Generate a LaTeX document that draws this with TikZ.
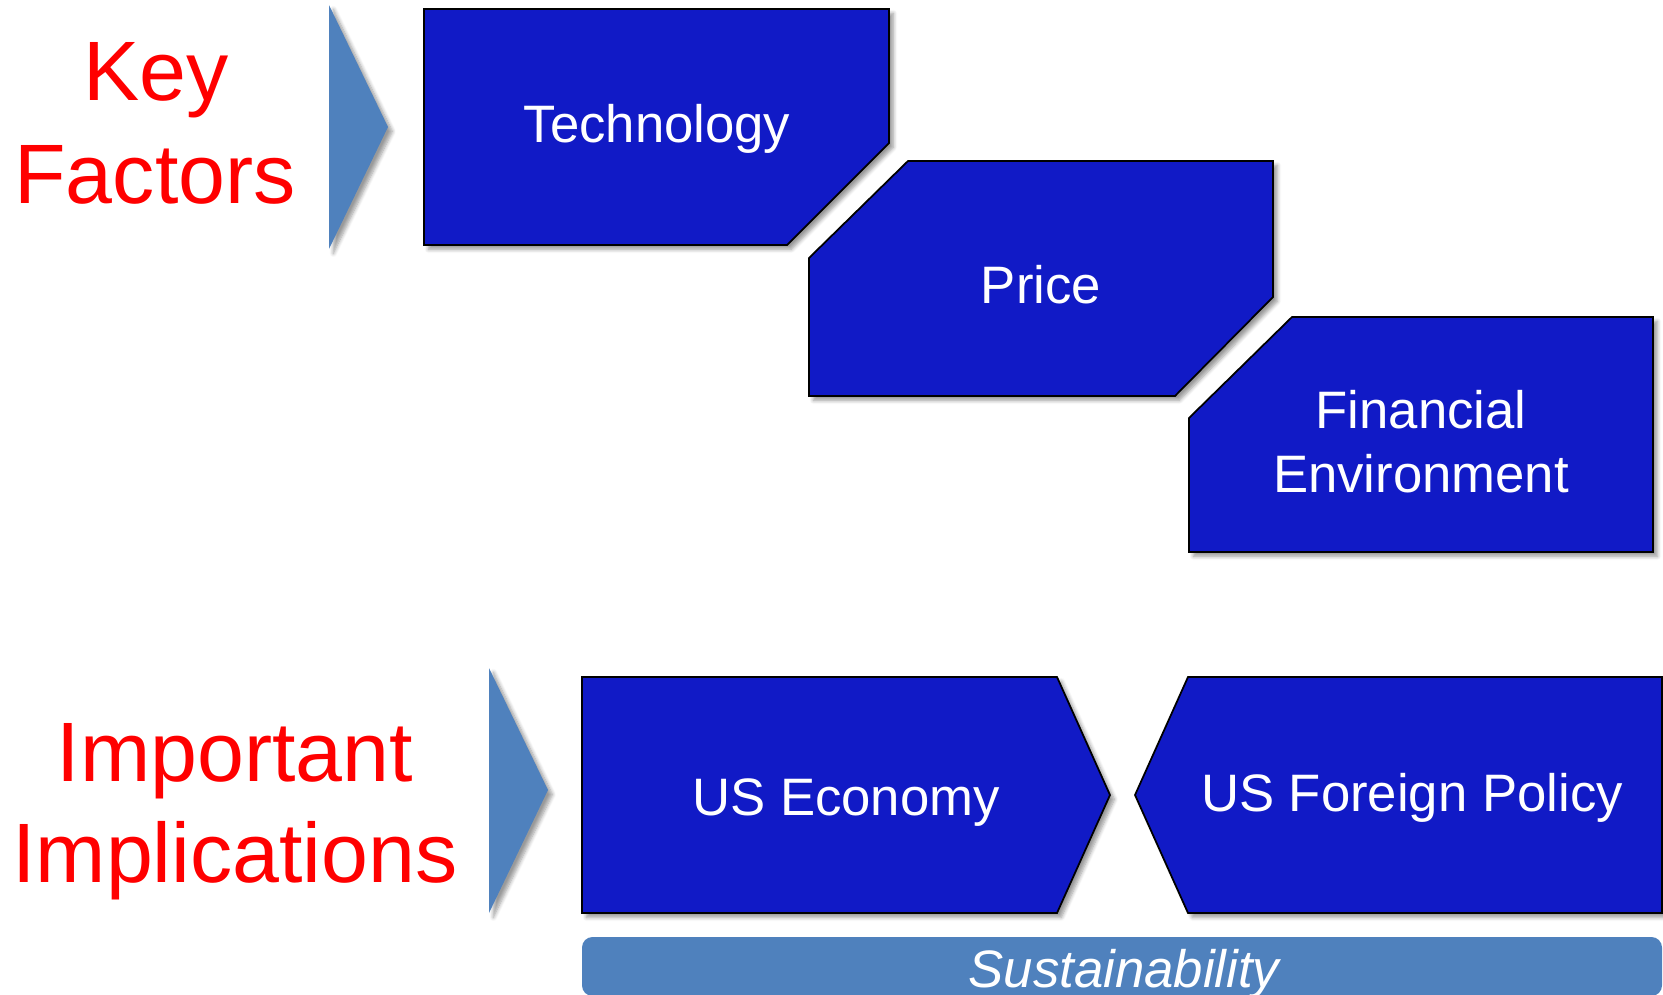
\documentclass[tikz,border=0pt]{standalone}
\usepackage{fontspec}
\setmainfont{Liberation Sans}
\usepackage{xcolor}
\usetikzlibrary{positioning,shadows.blur}
\definecolor{colorBox}{HTML}{111AC6}
\definecolor{colorArrow}{HTML}{4F81BD}
\definecolor{colorHead}{HTML}{FF0000}

\begin{document}
\begin{tikzpicture}[x=0.02cm,y=-0.02cm,
    shade/.style={blur shadow={shadow xshift=2.5pt, shadow yshift=-2.5pt, shadow blur steps=6, shadow opacity=40}},
    box/.style={fill=colorBox, draw=black, line width=1pt, line join=miter, shade},
    pointer/.style={fill=colorArrow, shade},
    boxtext/.style={anchor=base, text=white, font=\fontsize{30}{36}\selectfont},
    headtext/.style={anchor=base, text=colorHead, font=\fontsize{48}{57}\selectfont},]
    \useasboundingbox (0,0) rectangle (1663,994);
    \clip (0,0) rectangle (1663,994);

    % key factors
    \node [headtext] (key) at (156,100) {Key};
    \node [headtext] (factors) at (155,203) {Factors};
    \path [pointer] (329,5) -- (388,127) -- (329,249) -- cycle;
    \path [box] (424,9) -- (889,9) -- (889,143) -- (787,245) -- (424,245) -- cycle;
    \path [box] (809,258) -- (908,161) -- (1273,161) -- (1273,297) -- (1175,396) -- (809,396) -- cycle;
    \path [box] (1189,418) -- (1292,317) -- (1653,317) -- (1653,552) -- (1189,552) -- cycle;
    \node [boxtext] (tech) at (657,142) {Technology};
    \node [boxtext] (price) at (1041,303) {Price};
    \node [boxtext] (fin) at (1421,428) {Financial};
    \node [boxtext] (env) at (1421,492) {Environment};

    % implications
    \node [headtext] (important) at (235,781) {Important};
    \node [headtext] (impl) at (235,882) {Implications};
    \path [pointer] (489,668) -- (548,790) -- (489,913) -- cycle;
    \path [box] (582,677) -- (1057,677) -- (1110,795) -- (1057,913) -- (582,913) -- cycle;
    \path [box] (1135,795) -- (1188,677) -- (1662,677) -- (1662,913) -- (1188,913) -- cycle;
    \node [boxtext] (econ) at (846,815) {US Economy};
    \node [boxtext] (policy) at (1412,811) {US Foreign Policy};

    \fill [colorArrow, rounded corners=6pt] (582,937) rectangle (1662,996);
    \node [boxtext, font=\fontsize{30}{36}\selectfont\itshape] (sust) at (1124,987) {Sustainability};
\end{tikzpicture}
\end{document}
